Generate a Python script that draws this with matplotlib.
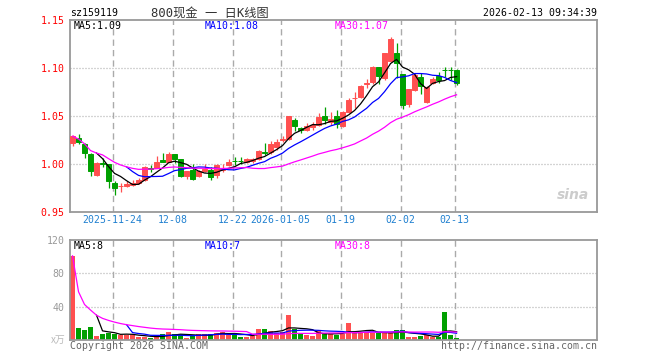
import matplotlib

matplotlib.use("Agg")

import matplotlib.pyplot as plt
import numpy as np
import pandas as pd

# daily candles, 2025-11-13 .. 2026-02-13 (index 0..64)
opens = [1.022, 1.027, 1.021, 1.010, 0.989, 1.001, 1.000, 0.980, 0.977, 0.977,
         0.978, 0.980, 0.983, 0.996, 0.996, 1.004, 1.002, 1.010, 1.005, 0.988,
         0.994, 0.987, 0.993, 0.994, 0.989, 0.994, 0.999, 1.0035, 1.0035, 1.002,
         1.003, 1.005, 1.0125, 1.012, 1.0174, 1.0253, 1.0257, 1.0458, 1.0378, 1.0354,
         1.0389, 1.0406, 1.050, 1.044, 1.050, 1.0396, 1.0545, 1.0685, 1.070, 1.0837,
         1.085, 1.1007, 1.0893, 1.1076, 1.1153, 1.0938, 1.0625, 1.0771, 1.091, 1.0649,
         1.084, 1.0917, 1.0983, 1.0983, 1.0979]
highs = [1.030, 1.031, 1.022, 1.011, 1.002, 1.006, 1.000, 0.982, 0.980, 0.982,
         0.983, 0.985, 0.998, 0.999, 1.008, 1.011, 1.013, 1.010, 1.005, 0.993,
         1.000, 0.994, 1.000, 0.997, 1.000, 1.000, 1.005, 1.0076, 1.0076, 1.0066,
         1.0066, 1.015, 1.0216, 1.024, 1.0257, 1.029, 1.050, 1.0476, 1.039, 1.043,
         1.044, 1.0534, 1.0597, 1.0545, 1.0563, 1.0552, 1.069, 1.0753, 1.0823, 1.089,
         1.102, 1.1014, 1.116, 1.132, 1.1257, 1.094, 1.0778, 1.0945, 1.0945, 1.0813,
         1.091, 1.0962, 1.1014, 1.1007, 1.0986]
lows = [1.019, 1.0205, 1.006, 0.987, 0.987, 0.997, 0.975, 0.968, 0.971, 0.976,
        0.977, 0.979, 0.982, 0.992, 0.9955, 1.002, 1.002, 1.001, 0.986, 0.984,
        0.983, 0.986, 0.992, 0.983, 0.985, 0.992, 0.998, 0.999, 1.000, 1.0007,
        1.0015, 1.004, 1.0094, 1.010, 1.0146, 1.0232, 1.025, 1.0344, 1.032, 1.0344,
        1.0354, 1.0396, 1.0417, 1.0406, 1.0372, 1.0389, 1.0534, 1.058, 1.069, 1.079,
        1.083, 1.0833, 1.0875, 1.1066, 1.0893, 1.057, 1.059, 1.0764, 1.0729, 1.0639,
        1.0833, 1.084, 1.091, 1.0875, 1.0823]
closes = [1.029, 1.023, 1.011, 0.993, 1.001, 1.000, 0.982, 0.975, 0.9772, 0.979,
          0.980, 0.983, 0.997, 0.995, 1.002, 1.0024, 1.010, 1.005, 0.988, 0.993,
          0.984, 0.993, 0.995, 0.986, 0.999, 0.9955, 1.002, 1.003, 1.003, 1.005,
          1.005, 1.014, 1.0118, 1.021, 1.0232, 1.026, 1.050, 1.0396, 1.0354, 1.0396,
          1.0406, 1.0493, 1.0458, 1.0469, 1.0417, 1.0545, 1.0667, 1.069, 1.0813, 1.0843,
          1.1014, 1.0917, 1.116, 1.130, 1.1055, 1.0615, 1.0778, 1.0927, 1.0813, 1.0799,
          1.0882, 1.0875, 1.0976, 1.0976, 1.084]
volumes = [101, 14.8, 12, 16, 4.8, 7.2, 8.8, 7.2, 6, 6,
           6, 4, 4, 2.4, 4, 6.8, 9.6, 7.2, 7.2, 2.4,
           4.8, 7.2, 7.2, 7.2, 8, 10, 6, 8, 4, 4,
           4.8, 13.6, 13.6, 10.8, 8, 10, 30, 13.6, 8, 5.6,
           4.8, 11.2, 8, 7.2, 6, 7.2, 20.8, 8.8, 10, 10,
           8.8, 8, 8, 8, 12, 12, 4, 4, 4.8, 6,
           4, 4, 34, 6, 2]

tick_pos = [7, 17, 27, 35, 45, 55, 64]
tick_labels = ["2025-11-24", "12-08", "12-22", "2026-01-05", "01-19", "02-02", "02-13"]
price_ticks = [0.95, 1.00, 1.05, 1.10, 1.15]
vol_ticks = [40, 80, 120]

RED = "#ff5050"
GREEN = "#00a000"
GRID = "#aaaaaa"
BORDER = "#999999"
W, H = 660, 360

plt.rcParams["font.family"] = ["DejaVu Sans Mono", "Noto Sans CJK SC"]
plt.rcParams["font.size"] = 7.1

fig = plt.figure(figsize=(W / 100, H / 100), dpi=100)


def px_axes(left, top, right, bottom):
    return fig.add_axes([left / W, 1 - bottom / H, (right - left) / W, (bottom - top) / H])


def px_text(x, y, s, **kw):
    fig.text(x / W, 1 - y / H, s, va="center", **kw)


ax = px_axes(70, 20, 597, 212)
axv = px_axes(70, 240, 597, 340)

o = np.array(opens)
c = np.array(closes)
idx = np.arange(len(c))
cols = np.where(c >= o, RED, GREEN)

for a in (ax, axv):
    for p in tick_pos:
        a.axvline(p - 0.3, color=GRID, linewidth=1, linestyle=(0, (4.5, 3)), zorder=0)
    for s in a.spines.values():
        s.set_color(BORDER)
        s.set_linewidth(1.3)
    a.set_xlim(-0.42, 87.4)
    a.tick_params(length=0)

# price panel
for lvl in [1.00, 1.05, 1.10]:
    ax.axhline(lvl, color=GRID, linewidth=0.9, linestyle=(0, (0.8, 1.6)), zorder=0)
ax.vlines(idx, lows, highs, colors=cols, linewidth=0.9, zorder=2)
ax.bar(idx, np.abs(c - o), bottom=np.minimum(o, c), width=0.8, color=cols,
       edgecolor=cols, linewidth=0.7, zorder=3)

cs = pd.Series(c)
ax.plot(idx, cs.rolling(5).mean(), color="black", linewidth=0.9, zorder=4)
ax.plot(idx, cs.rolling(10).mean(), color="#0000ff", linewidth=0.9, zorder=4)
ax.plot(idx, cs.rolling(30, min_periods=1).mean(), color="#ff00ff", linewidth=0.9, zorder=4)
ax.set_ylim(0.95, 1.15)
ax.set_yticks(price_ticks)
ax.set_yticklabels([f"{v:.2f}" for v in price_ticks], color="red")
ax.set_xticks([p - 0.3 for p in tick_pos])
ax.set_xticklabels(tick_labels, color="#2080d0")
ax.tick_params(axis="y", pad=4)
ax.tick_params(axis="x", pad=2)
ax.text(0.985, 0.09, "sina", transform=ax.transAxes, ha="right", va="center",
        fontsize=10, fontstyle="italic", fontweight="bold", color="#cccccc",
        family="DejaVu Sans")

# volume panel
for lvl in [40, 80]:
    axv.axhline(lvl, color=GRID, linewidth=0.9, linestyle=(0, (0.8, 1.6)), zorder=0)
axv.bar(idx, volumes, width=0.82, color=cols, zorder=2)
vs = pd.Series(volumes)
axv.plot(idx, vs.rolling(5).mean(), color="black", linewidth=0.9, zorder=4)
axv.plot(idx, vs.rolling(10).mean(), color="#0000ff", linewidth=0.9, zorder=4)
axv.plot(idx, vs.rolling(30, min_periods=1).mean(), color="#ff00ff", linewidth=0.9, zorder=4)
axv.set_ylim(0, 120)
axv.set_yticks(vol_ticks)
axv.set_yticklabels([str(v) for v in vol_ticks], color="#999999")
axv.set_xticks([])
axv.tick_params(axis="y", pad=4)

# header and legend texts
px_text(70, 13, "sz159119", color="black")
px_text(210, 13, "800现金 一 日K线图", ha="center", color="#333333", fontsize=8.8)
px_text(597, 13, "2026-02-13 09:34:39", ha="right", color="black")
px_text(74, 26, "MA5:1.09", color="black")
px_text(205, 26, "MA10:1.08", color="#0000ff")
px_text(335, 26, "MA30:1.07", color="#ff00ff")
px_text(74, 246, "MA5:8", color="black")
px_text(205, 246, "MA10:7", color="#0000ff")
px_text(335, 246, "MA30:8", color="#ff00ff")
px_text(66, 340, "x万", ha="right", color="#bbbbbb", fontstyle="italic",
        family=["Noto Sans CJK SC", "DejaVu Sans"])
px_text(70, 346, "Copyright 2026 SINA.COM", color="#666666")
px_text(597, 346, "http://finance.sina.com.cn", ha="right", color="#666666")

fig.savefig("out.png", dpi=100)
